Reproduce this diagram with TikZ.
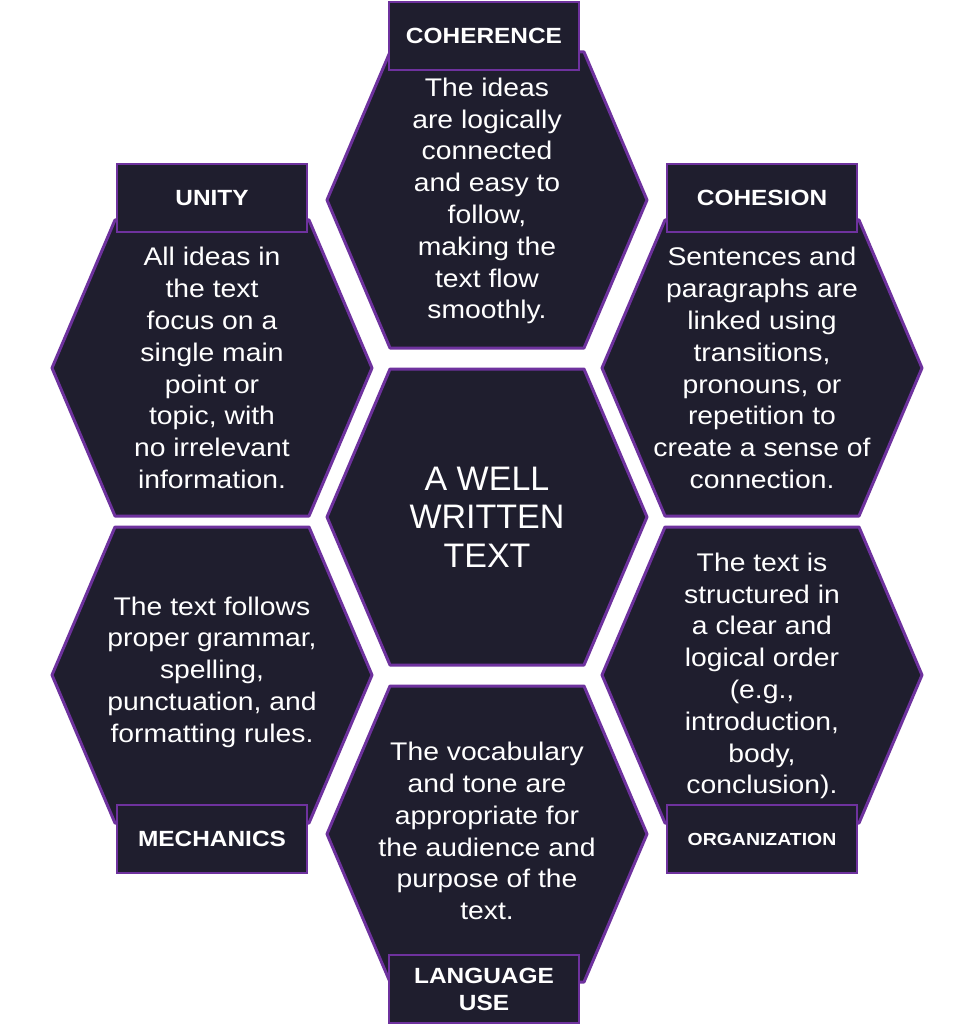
\documentclass[tikz,border=0pt]{standalone}
\usepackage{fontspec}
\setmainfont{Liberation Sans}
\newfontfamily\widesans[FakeStretch=1.11]{Liberation Sans}
\definecolor{cellfill}{HTML}{1F1E2E}
\definecolor{cellline}{HTML}{6E329E}

\tikzset{
  hexcell/.style={fill=cellfill, draw=cellline, line width=3pt, line join=round},
  bodytext/.style={text=white, align=center, inner sep=0pt,
    font=\widesans\fontsize{25.5}{31.8}\selectfont},
  hubtext/.style={text=white, align=center, inner sep=0pt,
    font=\fontsize{34}{38.5}\selectfont},
  tagbox/.style={fill=cellfill, draw=cellline, line width=2.5pt,
    minimum width=190pt, minimum height=68pt, inner sep=0pt,
    text=white, align=center,
    font=\widesans\bfseries\fontsize{22}{27}\selectfont},
}

% flat-topped hexagon around a named centre
\newcommand\hexcellat[1]{%
  \path[hexcell] (#1) ++(-160,0) -- ++(63,-148) -- ++(194,0)
    -- ++(63,148) -- ++(-63,148) -- ++(-194,0) -- cycle;}

\begin{document}
\begin{tikzpicture}[x=1pt,y=-1pt]
  \useasboundingbox[fill=white] (0,0) rectangle (976,1024);

  % cell centres
  \coordinate (hub)  at (487,517);
  \coordinate (coh)  at (487,200);
  \coordinate (lang) at (487,834);
  \coordinate (uni)  at (212,368);
  \coordinate (cohs) at (762,368);
  \coordinate (mech) at (212,675);
  \coordinate (org)  at (762,675);

  \hexcellat{hub}
  \hexcellat{coh}
  \hexcellat{lang}
  \hexcellat{uni}
  \hexcellat{cohs}
  \hexcellat{mech}
  \hexcellat{org}

  % texts inside the cells
  \node[hubtext] (hubT) at (487,517) {A WELL\\WRITTEN\\TEXT};
  \node[bodytext] (cohT) at (487,201)
    {The ideas\\are logically\\connected\\and easy to\\follow,\\making the\\text flow\\smoothly.};
  \node[bodytext] (uniT) at (212,368)
    {All ideas in\\the text\\focus on a\\single main\\point or\\topic, with\\no irrelevant\\information.};
  \node[bodytext] (cohsT) at (762,368)
    {Sentences and\\paragraphs are\\linked using\\transitions,\\pronouns, or\\repetition to\\create a sense of\\connection.};
  \node[bodytext] (mechT) at (212,672)
    {The text follows\\proper grammar,\\spelling,\\punctuation, and\\formatting rules.};
  \node[bodytext] (orgT) at (762,676)
    {The text is\\structured in\\a clear and\\logical order\\(e.g.,\\introduction,\\body,\\conclusion).};
  \node[bodytext] (langT) at (487,831)
    {The vocabulary\\and tone are\\appropriate for\\the audience and\\purpose of the\\text.};

  % title tabs
  \node[tagbox] (cohTag)  at (484,36)  {COHERENCE};
  \node[tagbox] (uniTag)  at (212,198) {UNITY};
  \node[tagbox] (cohsTag) at (762,198) {COHESION};
  \node[tagbox] (mechTag) at (212,839) {MECHANICS};
  \node[tagbox, font=\widesans\bfseries\fontsize{17.5}{22}\selectfont]
    (orgTag) at (762,839) {ORGANIZATION};
  \node[tagbox] (langTag) at (484,989) {LANGUAGE\\USE};
\end{tikzpicture}
\end{document}
